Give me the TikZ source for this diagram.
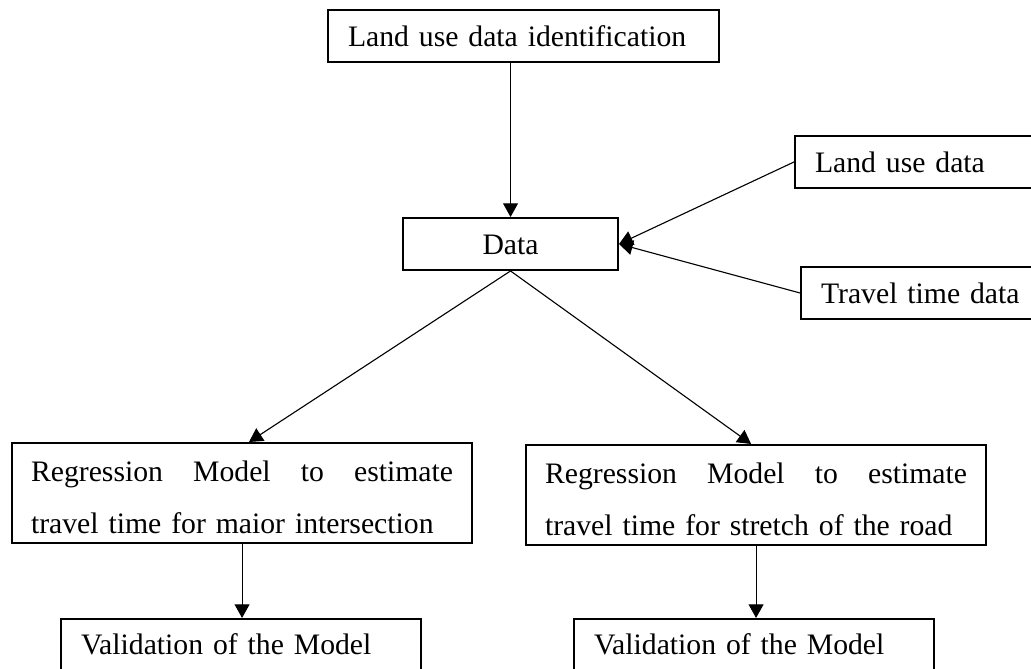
\documentclass[tikz,border=0pt]{standalone}
\usepackage{fontspec}
\setmainfont{Liberation Serif}
\usetikzlibrary{arrows.meta,positioning}

\tikzset{
  box/.style={draw, line width=0.8pt, inner xsep=8.1pt, inner ysep=0pt, align=left},
  single/.style={box, minimum height=21pt, text height=8.8pt, text depth=0pt},
  valbox/.style={box, minimum height=26pt, text height=8.8pt, text depth=5.8pt, text width=129.2pt},
  regbox/.style={box, inner xsep=7.7pt, text width=170.5pt},
  arr/.style={-{Triangle[length=5.5pt,width=6pt]}, line width=0.45pt}
}

\begin{document}
\begin{tikzpicture}[x=0.404pt, y=-0.404pt, font=\fontsize{12pt}{21pt}\selectfont]
                \useasboundingbox (0,0) rectangle (1031,669);

                % Top and input boxes
                \node[single, anchor=north west, text width=141.8pt] (landid) at (327,9) {Land use data identification};
                \node[single, anchor=north west, minimum width=86.9pt, align=center] (data) at (402,217) {Data};
                \node[single, anchor=north west, text width=110pt] (landuse) at (794,135) {Land use data};
                \node[single, anchor=north west, text width=110pt] (travel) at (800,266) {Travel time data};

                % Regression boxes
                \node[regbox, anchor=north west] (regL) at (11,442)
                    {\rule{0pt}{15.4pt}Regression\hfill Model\hfill to\hfill estimate\\
                     travel time for maior intersection\rule[-4pt]{0pt}{0pt}};
                \node[regbox, anchor=north west] (regR) at (525,444)
                    {\rule{0pt}{15.4pt}Regression\hfill Model\hfill to\hfill estimate\\
                     travel time for stretch of the road\rule[-4pt]{0pt}{0pt}};

                % Validation boxes
                \node[valbox, anchor=north west] (valL) at (60,618) {Validation of the Model};
                \node[valbox, anchor=north west] (valR) at (573,618) {Validation of the Model};

                % Connectors
                \draw[arr] (landid.south -| data.north) -- (data.north);
                \draw[arr] (landuse.west) -- (data.east);
                \draw[arr] (travel.west) -- (data.east);
                \draw[arr] (data.south) -- ([xshift=2.8pt]regL.north);
                \draw[arr] (data.south) -- ([xshift=-2pt]regR.north);
                \draw[arr] (regL.south) -- (regL.south |- valL.north);
                \draw[arr] (regR.south) -- (regR.south |- valR.north);

            \end{tikzpicture}
\end{document}
